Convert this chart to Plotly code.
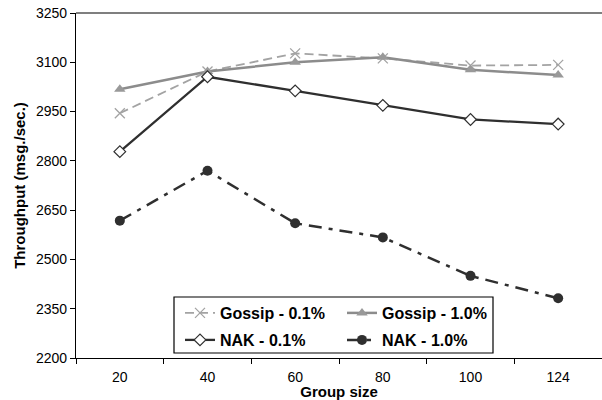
import plotly.graph_objects as go

groups = ["20", "40", "60", "80", "100", "124"]
gossip_01 = [2945, 3072, 3127, 3112, 3090, 3092]
gossip_10 = [3018, 3072, 3100, 3115, 3077, 3061]
nak_01 = [2828, 3056, 3013, 2969, 2926, 2912]
nak_10 = [2618, 2770, 2610, 2567, 2450, 2382]

FONT = "Arial, Liberation Sans, sans-serif"

fig = go.Figure()
fig.add_trace(go.Scatter(
    x=groups, y=gossip_01, name="Gossip - 0.1%", mode="lines+markers", legend="legend",
    line=dict(color="#a3a3a3", width=1.8, dash="9px,5px"),
    marker=dict(symbol="x-thin", size=10, line=dict(color="#a3a3a3", width=1.3))))
fig.add_trace(go.Scatter(
    x=groups, y=gossip_10, name="Gossip - 1.0%", mode="lines+markers", legend="legend",
    line=dict(color="#8c8c8c", width=2.5),
    marker=dict(symbol="triangle-up", size=10, color="#999999")))
fig.add_trace(go.Scatter(
    x=groups, y=nak_01, name="NAK - 0.1%", mode="lines+markers", legend="legend2",
    line=dict(color="#2f2f2f", width=2.3),
    marker=dict(symbol="diamond", size=9, color="white", line=dict(color="#2f2f2f", width=1.2))))
fig.add_trace(go.Scatter(
    x=groups, y=nak_10, name="NAK - 1.0%", mode="lines+markers", legend="legend2",
    line=dict(color="#2f2f2f", width=2.5, dash="13px,7px,4px,7px"),
    marker=dict(symbol="circle", size=10, color="#2f2f2f")))

# top frame line
fig.add_shape(type="line", xref="paper", yref="paper", x0=0, x1=1, y0=1, y1=1,
              line=dict(color="black", width=1.2))

# legend frame (paper coords: plot area x 76..602, y 13..358)
W, H = 526.0, 345.0
fig.add_shape(type="rect", xref="paper", yref="paper",
              x0=(174 - 76) / W, x1=(493 - 76) / W,
              y0=(358 - 353) / H, y1=(358 - 297) / H,
              line=dict(color="black", width=1.2), fillcolor="white", layer="above")

leg_common = dict(
    orientation="h", xanchor="left", yanchor="middle",
    bgcolor="rgba(0,0,0,0)", borderwidth=0,
    font=dict(family=FONT, size=16, color="black", weight="bold"),
    entrywidth=117, entrywidthmode="pixels", traceorder="normal",
)

fig.update_layout(
    width=602, height=400,
    margin=dict(l=76, r=0, t=13, b=42),
    paper_bgcolor="white", plot_bgcolor="white",
    font=dict(family=FONT, color="black", size=14),
    showlegend=True,
    legend=dict(x=(180 - 76) / W, y=(358 - 313) / H, **leg_common),
    legend2=dict(x=(180 - 76) / W, y=(358 - 340) / H, **leg_common),
    xaxis=dict(
        type="category", range=[-0.5, 5.5], tickson="boundaries", ticks="outside", ticklen=5,
        tickcolor="black", showline=True, linecolor="black", linewidth=1.2,
        showgrid=False, zeroline=False,
        tickfont=dict(size=14), ticklabelstandoff=6,
        title=dict(text="<b>Group size</b>", font=dict(size=15), standoff=0),
    ),
    yaxis=dict(
        range=[2200, 3250], tickmode="linear", tick0=2200, dtick=150,
        ticks="outside", ticklen=5, tickcolor="black",
        showline=True, linecolor="black", linewidth=1.2,
        showgrid=False, zeroline=False,
        tickfont=dict(size=14),
        title=dict(text="<b>Throughput (msg./sec.)</b>", font=dict(size=15), standoff=6),
    ),
)

fig.write_html("out.html")
